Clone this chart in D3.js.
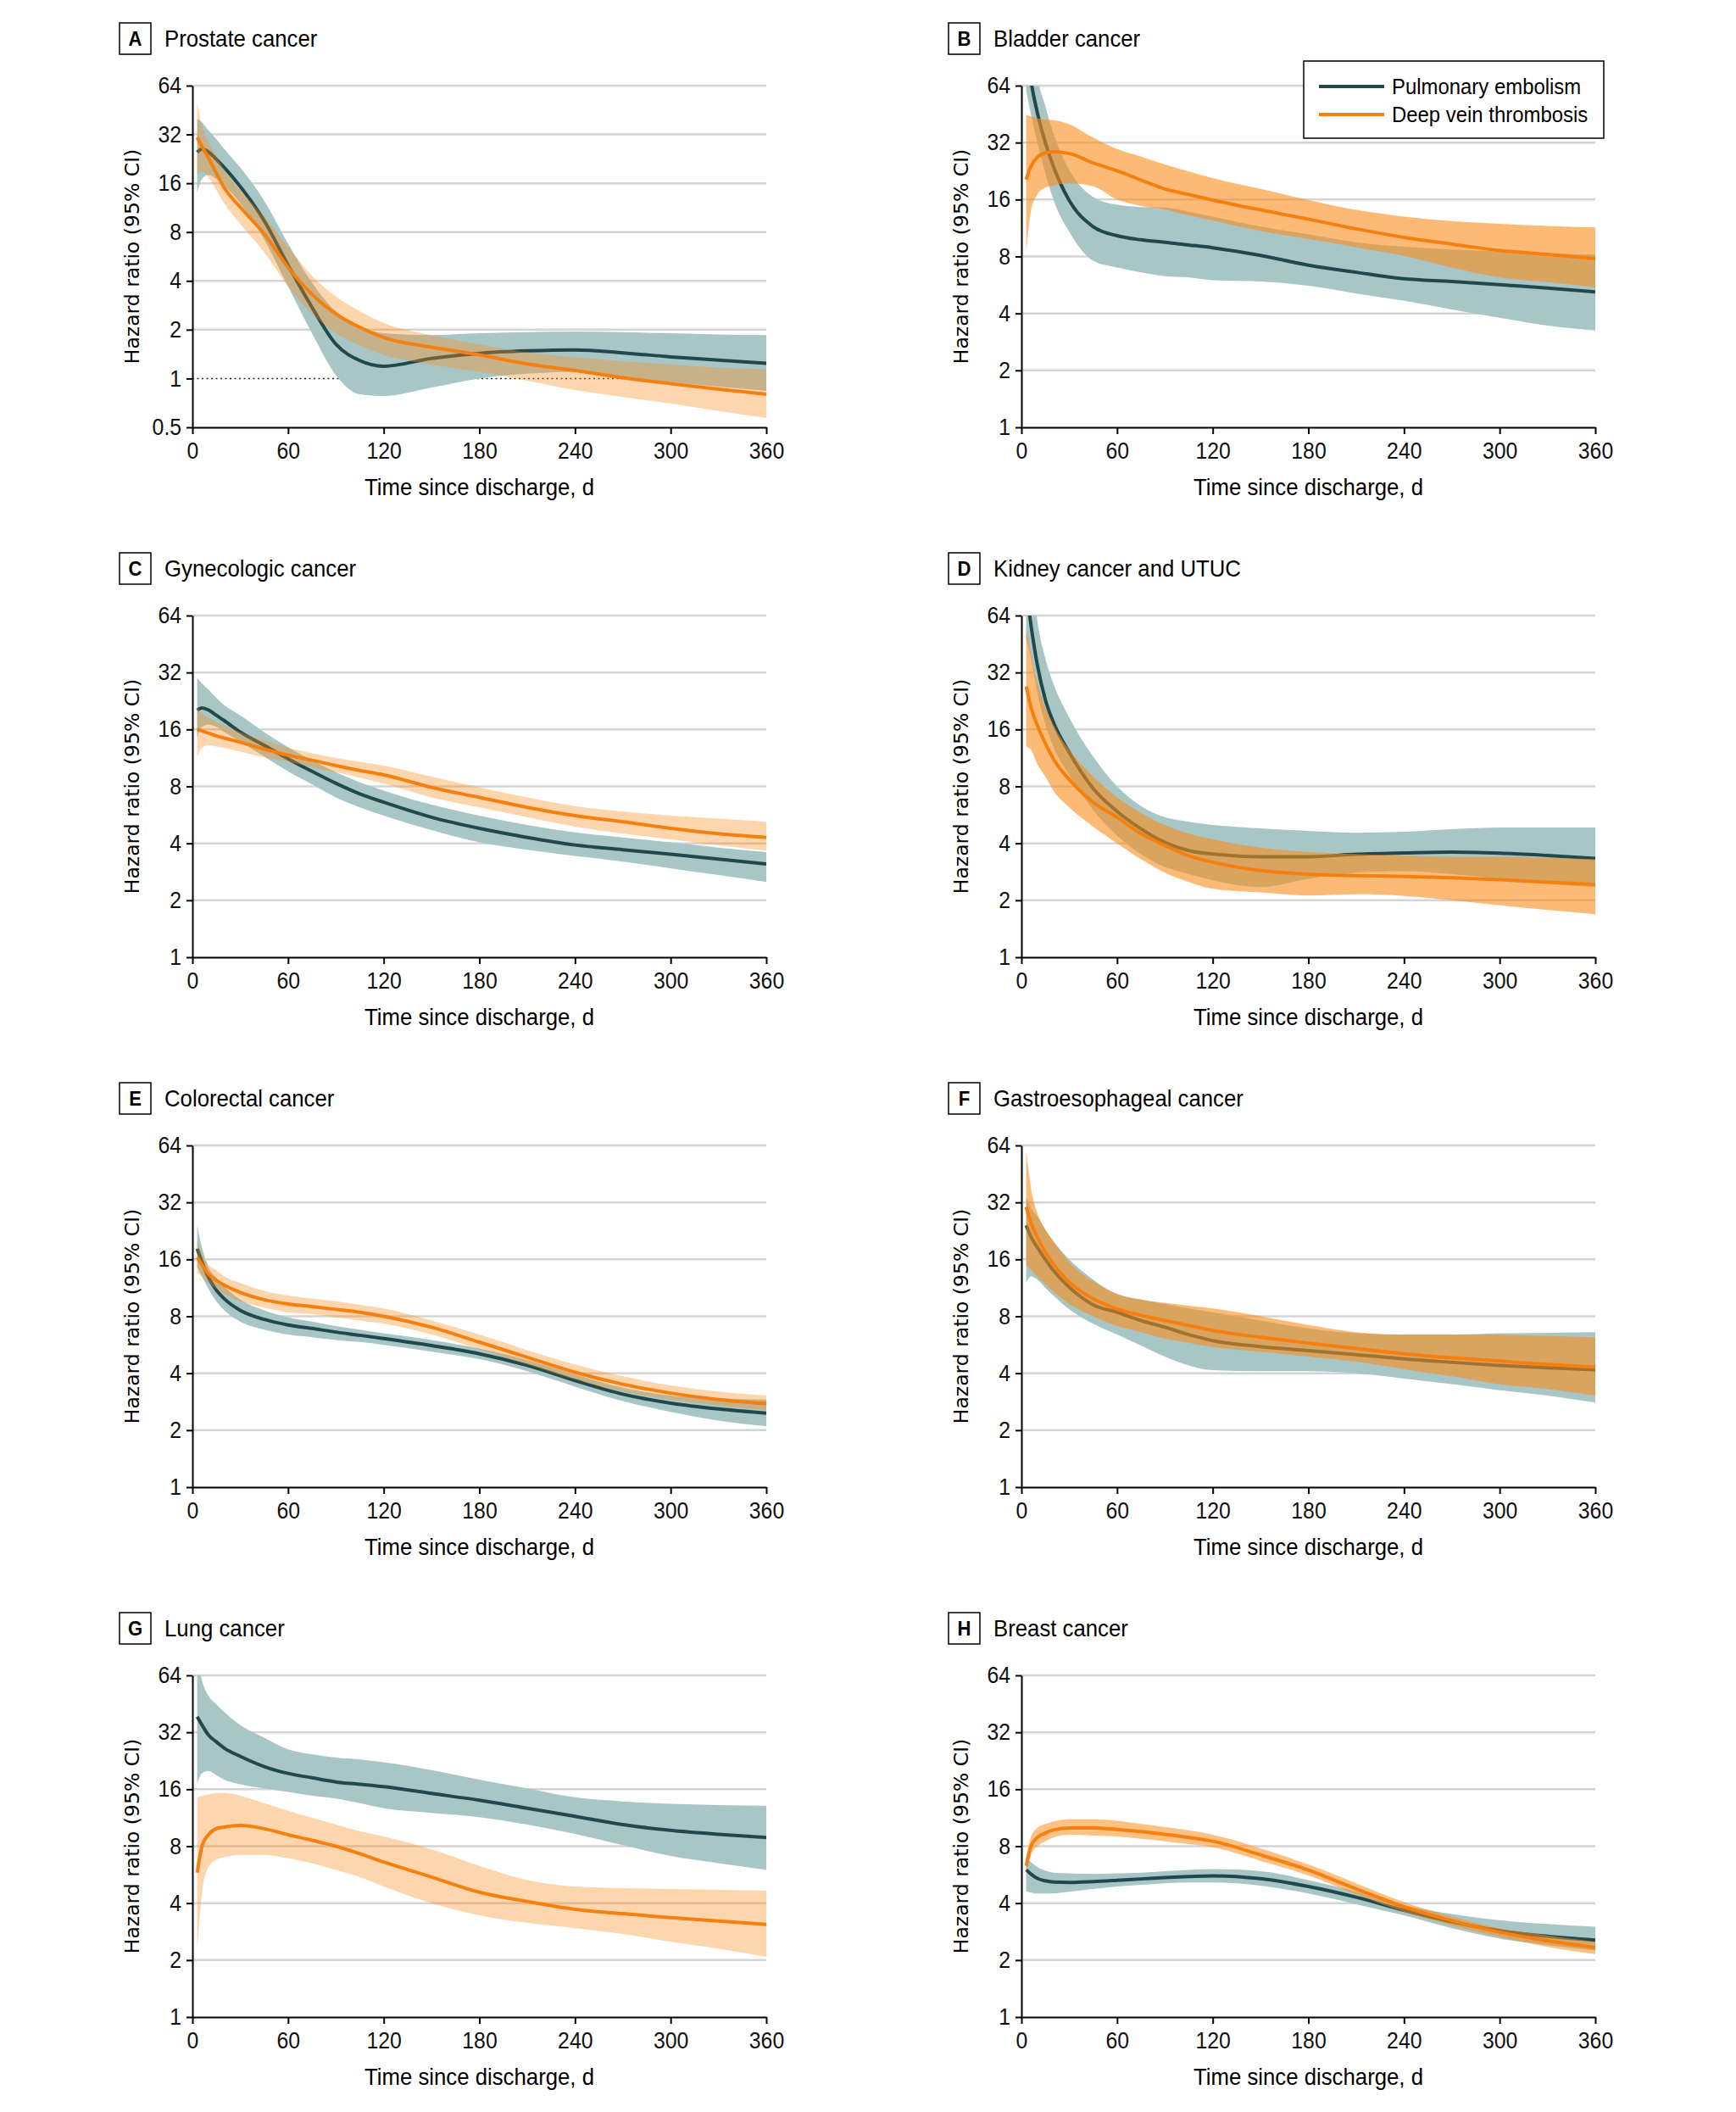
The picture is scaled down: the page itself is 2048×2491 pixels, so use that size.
<!DOCTYPE html>
<html>
<head>
<meta charset="utf-8">
<script src="https://cdn.jsdelivr.net/npm/d3@7"></script>
<style>
  body { margin: 0; background: #fff; }
  svg { display: block; }
  .domain { stroke: #000; stroke-width: 2px; }
  .tick line { stroke: #000; stroke-width: 2px; }
</style>
</head>
<body>
<svg id="chart" width="2048" height="2491"></svg>
<script>
var days = [3, 6, 10, 15, 20, 30, 45, 60, 75, 90, 105, 120, 150, 180, 210, 240, 270, 300, 330, 360];
var xTicks = [0, 60, 120, 180, 240, 300, 360];
var yTicksProstate = [0.5, 1, 2, 4, 8, 16, 32, 64];
var yTicks = [1, 2, 4, 8, 16, 32, 64];
var letters = ["A", "B", "C", "D", "E", "F", "G", "H"];
var titles = ["Prostate cancer", "Bladder cancer", "Gynecologic cancer", "Kidney cancer and UTUC",
              "Colorectal cancer", "Gastroesophageal cancer", "Lung cancer", "Breast cancer"];
var seriesNames = ["Pulmonary embolism", "Deep vein thrombosis"];

// A - prostate
var peA    = [24.8, 26, 25, 22.5, 20, 15.3, 9.4, 5.0, 2.75, 1.63, 1.29, 1.19, 1.33, 1.43, 1.48, 1.5, 1.44, 1.36, 1.3, 1.24];
var peHiA  = [40, 38, 34, 30, 26, 20, 12.5, 6.8, 3.9, 2.6, 2.1, 1.9, 1.85, 1.9, 1.93, 1.95, 1.93, 1.9, 1.87, 1.85];
var peLoA  = [14, 17, 18, 17, 15.5, 12, 7.2, 3.7, 1.9, 1.05, 0.8, 0.78, 0.88, 1.0, 1.07, 1.1, 1.02, 0.95, 0.89, 0.84];
var dvtA   = [30.7, 27, 23, 18.5, 15, 11.4, 7.8, 4.85, 3.3, 2.5, 2.07, 1.79, 1.56, 1.4, 1.23, 1.12, 1.01, 0.93, 0.86, 0.8];
var dvtHiA = [50, 36, 29, 23.5, 19.5, 14.5, 10, 6.5, 4.3, 3.2, 2.6, 2.2, 1.85, 1.62, 1.45, 1.35, 1.28, 1.22, 1.17, 1.14];
var dvtLoA = [18, 19, 17.5, 14.5, 12, 9, 6, 3.7, 2.5, 1.9, 1.6, 1.4, 1.22, 1.1, 0.97, 0.85, 0.77, 0.7, 0.63, 0.57];

// B - bladder
var peB    = [110, 68, 46, 32, 24, 15.8, 11.5, 10.3, 9.8, 9.5, 9.2, 8.9, 8.1, 7.2, 6.6, 6.1, 5.9, 5.67, 5.45, 5.2];
var peHiB  = [400, 200, 75, 50, 36, 23, 16.5, 15, 14.6, 14.5, 13.8, 13, 11.5, 10.5, 9.5, 9.0, 8.7, 8.5, 8.3, 8.2];
var peLoB  = [60, 45, 32, 22, 16, 10.8, 7.6, 7.0, 6.6, 6.3, 6.2, 6.0, 5.9, 5.6, 5.1, 4.66, 4.2, 3.8, 3.45, 3.25];
var dvtB   = [20.4, 24, 26.8, 28.2, 28.6, 28, 25, 22.7, 20.3, 18.2, 17, 15.9, 14.1, 12.6, 11.2, 10.1, 9.3, 8.6, 8.2, 7.8];
var dvtHiB = [45, 44, 43, 42.5, 42, 40, 34, 29.6, 27, 24.5, 22.5, 20.8, 18.2, 15.9, 14.1, 13, 12.3, 11.9, 11.6, 11.4];
var dvtLoB = [8.4, 14, 17, 18.5, 19, 19.5, 18.8, 16, 14.8, 14.2, 13.2, 12.4, 10.9, 9.9, 8.95, 8.07, 7.0, 6.2, 5.85, 5.5];

// C - gynecologic
var peC    = [20.2, 20.8, 20.3, 19, 17.8, 15.5, 13.2, 11.2, 9.6, 8.3, 7.3, 6.6, 5.5, 4.8, 4.3, 3.92, 3.7, 3.5, 3.3, 3.11];
var peHiC  = [30, 28, 26, 23.5, 21.5, 19, 15.5, 12.9, 11, 9.5, 8.4, 7.6, 6.4, 5.6, 5.0, 4.57, 4.3, 4.05, 3.8, 3.6];
var peLoC  = [14.5, 16.5, 17, 16.5, 15.5, 13.8, 11.5, 9.6, 8.2, 7.0, 6.2, 5.6, 4.7, 4.05, 3.7, 3.43, 3.2, 2.95, 2.72, 2.5];
var dvtC   = [16, 15.7, 15.3, 14.8, 14.4, 13.7, 12.6, 11.7, 11.0, 10.3, 9.7, 9.2, 7.9, 7.0, 6.2, 5.6, 5.2, 4.8, 4.5, 4.3];
var dvtHiC = [21, 19.5, 18.5, 17.5, 16.8, 15.5, 14, 12.8, 12, 11.3, 10.8, 10.3, 9.0, 7.9, 7.0, 6.3, 5.9, 5.6, 5.4, 5.2];
var dvtLoC = [11.4, 12.8, 13.2, 13, 12.8, 12.2, 11.4, 10.8, 10.1, 9.5, 8.9, 8.3, 7.0, 6.2, 5.5, 4.9, 4.5, 4.2, 3.9, 3.66];

// D - kidney and UTUC
var peD    = [90, 57, 35, 23, 17.5, 12.1, 7.8, 5.9, 4.77, 4.05, 3.66, 3.51, 3.4, 3.4, 3.5, 3.56, 3.6, 3.55, 3.45, 3.33];
var peHiD  = [250, 120, 60, 38, 28, 18.5, 11.5, 8.0, 6.3, 5.5, 5.2, 5.0, 4.8, 4.65, 4.55, 4.6, 4.75, 4.85, 4.85, 4.85];
var peLoD  = [48, 38, 25, 17, 13, 9.2, 6.0, 4.4, 3.5, 3.0, 2.75, 2.55, 2.35, 2.6, 2.8, 2.85, 2.75, 2.6, 2.45, 2.35];
var dvtD   = [27, 21, 16.8, 13.5, 11.2, 8.7, 6.6, 5.5, 4.5, 3.9, 3.44, 3.18, 2.87, 2.75, 2.7, 2.67, 2.63, 2.57, 2.49, 2.42];
var dvtHiD = [55, 40, 28, 21, 17, 12.5, 9.0, 7.0, 5.8, 5.0, 4.5, 4.2, 3.8, 3.6, 3.5, 3.45, 3.4, 3.4, 3.35, 3.3];
var dvtLoD = [13, 12.5, 10.5, 9, 7.6, 6.2, 4.9, 4.0, 3.3, 2.8, 2.5, 2.3, 2.2, 2.12, 2.15, 2.11, 2.0, 1.88, 1.78, 1.69];

// E - colorectal
var peE    = [18.2, 15.5, 12.9, 11, 9.9, 8.6, 7.7, 7.2, 6.9, 6.6, 6.35, 6.1, 5.6, 5.07, 4.4, 3.66, 3.1, 2.78, 2.59, 2.46];
var peHiE  = [24, 18.5, 14.5, 12.8, 11.5, 9.8, 8.6, 7.9, 7.5, 7.1, 6.8, 6.5, 6.0, 5.4, 4.7, 3.95, 3.35, 3.05, 2.95, 2.9];
var peLoE  = [14.5, 13, 11.2, 9.6, 8.6, 7.5, 6.8, 6.4, 6.2, 6.0, 5.85, 5.65, 5.2, 4.75, 4.1, 3.4, 2.85, 2.5, 2.25, 2.1];
var dvtE   = [16.4, 15, 13.4, 12.4, 11.7, 10.7, 9.8, 9.3, 9.0, 8.7, 8.4, 8.0, 7.0, 5.84, 4.86, 4.05, 3.5, 3.14, 2.9, 2.76];
var dvtHiE = [20, 17, 15, 14, 13, 12, 10.9, 10.3, 9.9, 9.6, 9.2, 8.8, 7.6, 6.4, 5.3, 4.45, 3.85, 3.45, 3.2, 3.05];
var dvtLoE = [13.5, 13, 12, 11.2, 10.5, 9.6, 8.9, 8.4, 8.2, 7.9, 7.6, 7.3, 6.4, 5.35, 4.45, 3.7, 3.2, 2.9, 2.7, 2.55];

// F - gastroesophageal
var peF    = [24.2, 21, 18.5, 16, 14, 11.4, 9.2, 8.4, 7.6, 7.0, 6.4, 5.95, 5.53, 5.27, 5.02, 4.76, 4.57, 4.4, 4.27, 4.17];
var peHiF  = [34, 30, 27, 23, 20, 16, 12.5, 10.5, 9.8, 9.3, 8.8, 8.4, 7.6, 6.9, 6.5, 6.4, 6.4, 6.5, 6.55, 6.6];
var peLoF  = [12, 13, 12.5, 11.3, 10.3, 8.7, 7.3, 6.4, 5.6, 4.9, 4.4, 4.15, 4.1, 4.1, 4.0, 3.75, 3.5, 3.25, 3.05, 2.8];
var dvtF   = [30.3, 25, 20.9, 17.5, 15.1, 12.1, 9.9, 8.75, 8.1, 7.6, 7.15, 6.73, 6.2, 5.77, 5.4, 5.07, 4.83, 4.64, 4.45, 4.31];
var dvtHiF = [60, 38, 28, 23, 20, 15.5, 12.2, 10.5, 9.8, 9.4, 9.1, 8.8, 8.0, 7.2, 6.6, 6.4, 6.4, 6.4, 6.3, 6.2];
var dvtLoF = [15, 14, 13, 11.8, 10.8, 9.3, 8.0, 7.1, 6.6, 6.1, 5.8, 5.5, 5.2, 4.9, 4.6, 4.2, 3.85, 3.5, 3.3, 3.05];

// G - lung
var peG    = [38.7, 35, 31, 28.5, 26.4, 23.9, 21.1, 19.4, 18.4, 17.5, 17, 16.5, 15.2, 14, 12.7, 11.5, 10.4, 9.7, 9.25, 8.9];
var peHiG  = [80, 60, 50, 45, 41, 35, 30, 26, 24.5, 23.5, 23, 22.2, 20.2, 18, 16.2, 14.5, 13.8, 13.4, 13.2, 13.1];
var peLoG  = [17, 19.5, 20, 19, 18, 17, 16.2, 15.5, 14.8, 14.3, 13.5, 12.7, 12.0, 11.4, 10.4, 9.3, 8.1, 7.1, 6.5, 6.0];
var dvtG   = [5.8, 8, 9.2, 9.9, 10.1, 10.3, 9.9, 9.2, 8.6, 8.0, 7.3, 6.6, 5.5, 4.57, 4.08, 3.71, 3.52, 3.35, 3.22, 3.09];
var dvtHiG = [14.5, 14.8, 15, 15.3, 15.3, 14.8, 13.5, 12.3, 11.3, 10.4, 9.6, 9.0, 7.7, 6.3, 5.3, 4.9, 4.8, 4.75, 4.7, 4.65];
var dvtLoG = [2.3, 4.5, 6.2, 6.8, 7.0, 7.2, 7.2, 6.9, 6.5, 6.0, 5.5, 4.9, 4.0, 3.45, 3.15, 2.95, 2.75, 2.5, 2.3, 2.08];

// H - breast
var peH    = [6.0, 5.7, 5.4, 5.25, 5.17, 5.15, 5.2, 5.28, 5.37, 5.46, 5.53, 5.58, 5.39, 4.9, 4.3, 3.67, 3.19, 2.86, 2.67, 2.55];
var peHiH  = [7.0, 6.6, 6.2, 5.95, 5.8, 5.75, 5.7, 5.75, 5.8, 5.9, 6.0, 6.05, 5.9, 5.3, 4.6, 3.9, 3.5, 3.25, 3.1, 3.0];
var peLoH  = [4.6, 4.55, 4.5, 4.5, 4.5, 4.6, 4.75, 4.9, 5.0, 5.1, 5.15, 5.15, 4.95, 4.5, 3.95, 3.45, 2.95, 2.6, 2.4, 2.25];
var dvtH   = [6.3, 8.0, 8.9, 9.4, 9.74, 10.0, 10.0, 9.82, 9.55, 9.25, 8.9, 8.5, 7.2, 5.98, 4.76, 3.83, 3.23, 2.81, 2.53, 2.33];
var dvtHiH = [6.8, 9.0, 10.0, 10.5, 10.8, 11.1, 11.1, 10.9, 10.5, 10.1, 9.7, 9.2, 7.8, 6.4, 5.1, 4.05, 3.4, 2.95, 2.7, 2.5];
var dvtLoH = [5.8, 7.2, 8.0, 8.5, 8.9, 9.2, 9.1, 9.0, 8.75, 8.5, 8.2, 7.9, 6.7, 5.6, 4.45, 3.6, 3.05, 2.65, 2.35, 2.15];

var peLines  = [peA, peB, peC, peD, peE, peF, peG, peH];
var peHis    = [peHiA, peHiB, peHiC, peHiD, peHiE, peHiF, peHiG, peHiH];
var peLos    = [peLoA, peLoB, peLoC, peLoD, peLoE, peLoF, peLoG, peLoH];
var dvtLines = [dvtA, dvtB, dvtC, dvtD, dvtE, dvtF, dvtG, dvtH];
var dvtHis   = [dvtHiA, dvtHiB, dvtHiC, dvtHiD, dvtHiE, dvtHiF, dvtHiG, dvtHiH];
var dvtLos   = [dvtLoA, dvtLoB, dvtLoC, dvtLoD, dvtLoE, dvtLoF, dvtLoG, dvtLoH];

// styling
var peColor = "#21494c", peBand = "#a9c6c6";
var dvtColor = "#f5800f", dvtBand = "#f98e1d";
var dvtBandOpacity = [0.36, 0.6, 0.36, 0.6, 0.36, 0.6, 0.36, 0.55];
var font = '"Liberation Sans", Arial, sans-serif';
var squeeze = 0.92;  // the figure's face is a little condensed

var colX = [227, 1205];
var rowY = [101, 726, 1351, 1976];
var W = 677, H = 403;

var svg = d3.select("#chart");
svg.append("rect").attr("width", 2048).attr("height", 2491).attr("fill", "#fff");

// text squeezed horizontally around its anchor point
function label(parent, x, y, str, size, anchor, weight) {
  return parent.append("g").attr("transform", "translate(" + x + "," + y + ")")
    .append("text")
    .attr("transform", "scale(" + squeeze + ",1)")
    .attr("text-anchor", anchor || "start").attr("dominant-baseline", "central")
    .style("font-family", font).style("font-size", size + "px")
    .style("font-weight", weight || "normal")
    .text(str);
}

letters.forEach(function (letter, i) {
  var ox = colX[i % 2], oy = rowY[Math.floor(i / 2)];
  var ticksY = i === 0 ? yTicksProstate : yTicks;

  var x = d3.scaleLinear().domain([0, 360]).range([0, W]);
  var y = d3.scaleLog().base(2).domain([ticksY[0], 64]).range([H, 0]);

  var g = svg.append("g").attr("transform", "translate(" + ox + "," + oy + ")");

  // panel letter and title
  g.append("rect")
    .attr("x", -86).attr("y", -74).attr("width", 37).attr("height", 37)
    .attr("fill", "#fff").attr("stroke", "#000").attr("stroke-width", 1.5);
  label(g, -67.5, -55, letter, 24, "middle", "bold");
  label(g, -33, -55, titles[i], 28);

  // gridlines (the 1 line in panel A is dotted instead)
  g.selectAll(".grid")
    .data(ticksY.filter(function (t) { return t > ticksY[0] && !(i === 0 && t === 1); }))
    .enter().append("line")
    .attr("x1", 0).attr("x2", W)
    .attr("y1", function (d) { return y(d); }).attr("y2", function (d) { return y(d); })
    .attr("stroke", "#d4d4d4").attr("stroke-width", 2.5);

  if (i === 0) {
    g.append("line")
      .attr("x1", 0).attr("x2", W).attr("y1", y(1)).attr("y2", y(1))
      .attr("stroke", "#222").attr("stroke-width", 1.6).attr("stroke-dasharray", "2,3.5");
  }

  var clipId = "clip" + letter;
  g.append("clipPath").attr("id", clipId)
    .append("rect").attr("x", 0).attr("y", 0).attr("width", W).attr("height", H);

  var plot = g.append("g").attr("clip-path", "url(#" + clipId + ")");

  function rows(mid, lo, hi) {
    return days.map(function (d, j) { return { day: d, mid: mid[j], lo: lo[j], hi: hi[j] }; });
  }
  var pe = rows(peLines[i], peLos[i], peHis[i]);
  var dvt = rows(dvtLines[i], dvtLos[i], dvtHis[i]);

  var area = d3.area()
    .x(function (d) { return x(d.day); })
    .y0(function (d) { return y(d.lo); })
    .y1(function (d) { return y(d.hi); })
    .curve(d3.curveMonotoneX);
  var line = d3.line()
    .x(function (d) { return x(d.day); })
    .y(function (d) { return y(d.mid); })
    .curve(d3.curveMonotoneX);

  plot.append("path").datum(pe).attr("d", area).attr("fill", peBand);
  plot.append("path").datum(pe).attr("d", line)
    .attr("fill", "none").attr("stroke", peColor).attr("stroke-width", 4);
  plot.append("path").datum(dvt).attr("d", area)
    .attr("fill", dvtBand).attr("fill-opacity", dvtBandOpacity[i]);
  plot.append("path").datum(dvt).attr("d", line)
    .attr("fill", "none").attr("stroke", dvtColor).attr("stroke-width", 4);

  // axes
  var xa = g.append("g")
    .attr("transform", "translate(0," + H + ")")
    .call(d3.axisBottom(x).tickValues(xTicks).tickSize(8).tickPadding(10).tickSizeOuter(0));
  var ya = g.append("g")
    .call(d3.axisLeft(y).tickValues(ticksY).tickFormat(d3.format("")).tickSize(7).tickPadding(7).tickSizeOuter(0));
  [xa, ya].forEach(function (a) {
    a.selectAll("text")
      .attr("transform", "scale(" + squeeze + ",1)")
      .style("font-family", font).style("font-size", "27px").attr("fill", "#111");
  });

  label(g, W / 2, H + 71, "Time since discharge, d", 28, "middle");
  g.append("text")
    .attr("transform", "translate(-71," + (H / 2) + ") rotate(-90)")
    .attr("text-anchor", "middle").attr("dominant-baseline", "central")
    .style("font-family", '"DejaVu Sans", sans-serif').style("font-size", "23.5px")
    .text("Hazard ratio (95% CI)");

  // legend lives in panel B
  if (i === 1) {
    var lg = g.append("g").attr("transform", "translate(333,-29)");
    lg.append("rect").attr("width", 354).attr("height", 91)
      .attr("fill", "#fff").attr("stroke", "#000").attr("stroke-width", 1.5);
    [peColor, dvtColor].forEach(function (c, j) {
      var ly = 30 + j * 33;
      lg.append("line").attr("x1", 18).attr("x2", 95).attr("y1", ly).attr("y2", ly)
        .attr("stroke", c).attr("stroke-width", 4);
      label(lg, 104, ly, seriesNames[j], 26);
    });
  }
});
</script>
</body>
</html>
